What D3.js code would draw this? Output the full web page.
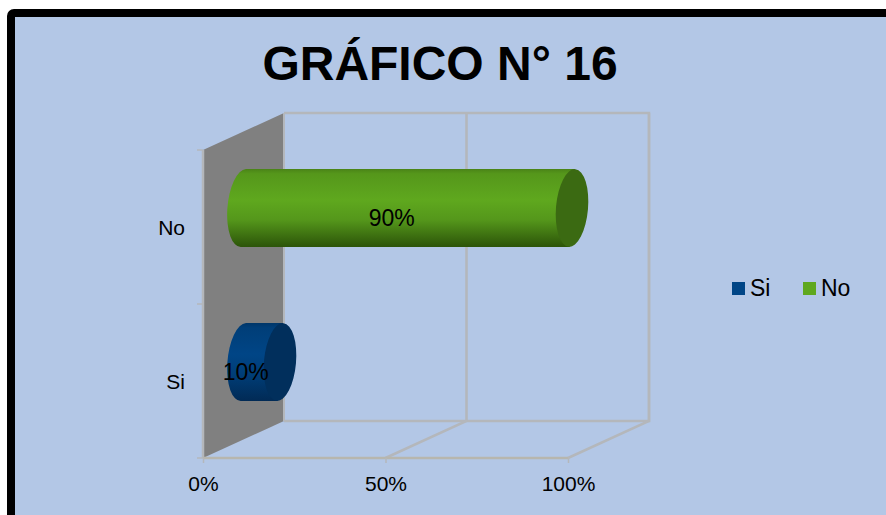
<!DOCTYPE html>
<html><head><meta charset="utf-8">
<script src="https://cdn.jsdelivr.net/npm/d3@7/dist/d3.min.js"></script>
<style>
html,body{margin:0;padding:0;background:#fff;overflow:hidden}
svg{display:block}
text{font-family:"Liberation Sans",Arial,sans-serif;fill:#000}
</style></head><body>
<svg id="c" width="886" height="515"></svg>
<script>
const chartTitle = "GRÁFICO N° 16";
const categories = ["Si", "No"];
const values = [10, 90];
const xTicks = [0, 50, 100];
const seriesColors = ["#004586", "#5fa81e"];
const capColors = ["#012f5c", "#3b6a12"];
const edgeColors = ["#012a55", "#2c5409"];

const W = 886, H = 515;
const svg = d3.select("#c");
const defs = svg.append("defs");

// frame
svg.append("rect").attr("x", 11).attr("y", 13).attr("width", W + 20).attr("height", H + 20)
  .attr("rx", 3).attr("fill", "#b3c7e6").attr("stroke", "#000").attr("stroke-width", 8);

svg.append("text").attr("x", 440).attr("y", 80).attr("text-anchor", "middle")
  .attr("font-size", 48).attr("font-weight", 700).text(chartTitle);

// 3D geometry
const x = d3.scaleLinear().domain([0, 100]).range([203, 568]);
const y = d3.scaleBand().domain(categories).range([458, 150]);
const depthX = 81, depthY = -37;
const gridCol = "#b4b7bb";

// back wall and floor grid
const g = svg.append("g").attr("fill", "none").attr("stroke", gridCol).attr("stroke-width", 2.5);
g.append("path").attr("d", d3.line()([[x(0)+depthX, y.range()[1]+depthY],[x(100)+depthX, y.range()[1]+depthY],[x(100)+depthX, y.range()[0]+depthY],[x(0)+depthX, y.range()[0]+depthY]]));
xTicks.slice(1).forEach(t => {
  g.append("path").attr("d", d3.line()([[x(t), y.range()[0]],[x(t)+depthX, y.range()[0]+depthY],[x(t)+depthX, y.range()[1]+depthY]]));
});

// left wall
svg.append("path").attr("fill", "#808080").attr("stroke", "none")
  .attr("d", d3.line()([[x(0), y.range()[0]],[x(0), y.range()[1]],[x(0)+depthX, y.range()[1]+depthY],[x(0)+depthX, y.range()[0]+depthY]]));
svg.append("path").attr("fill", "none").attr("stroke", gridCol).attr("stroke-width", 2)
  .attr("d", d3.line()([[x(0)+depthX, y.range()[1]+depthY],[x(0)+depthX, y.range()[0]+depthY]]));
svg.append("path").attr("fill", "none").attr("stroke", gridCol).attr("stroke-width", 2.5)
  .attr("d", d3.line()([[x(0), y.range()[1]],[x(0), y.range()[0]]]));

// axes
const xAxis = svg.append("g").attr("transform", `translate(0,${y.range()[0]})`)
  .call(d3.axisBottom(x).tickValues(xTicks).tickFormat(d => d + "%").tickSize(5).tickPadding(13));
xAxis.select(".domain").attr("stroke", "#b7b6ae").attr("stroke-width", 2.5).attr("d", `M${x(0)},0H${x(100)}`);
xAxis.selectAll("line").attr("stroke", gridCol).attr("stroke-width", 1.5);
xAxis.selectAll("text").attr("font-size", 21).attr("font-family", '"Liberation Sans",Arial,sans-serif').attr("fill", "#000");

const yAxis = svg.append("g").attr("transform", `translate(${x(0)},1)`)
  .call(d3.axisLeft(y).tickSize(0).tickPadding(18));
yAxis.select(".domain").remove();
yAxis.selectAll("text").attr("font-size", 21).attr("font-family", '"Liberation Sans",Arial,sans-serif').attr("fill", "#000");
const edges = [y.range()[0], ...categories.map(c => y(c))];
svg.append("g").selectAll("line").data(edges).join("line")
  .attr("x1", x(0) - 6).attr("x2", x(0)).attr("y1", d => d).attr("y2", d => d)
  .attr("stroke", gridCol).attr("stroke-width", 1.5);

// cylinders
const rx = 16, ry = 39, rot = 5, tanDx = 2.5;
const rows = categories.map((c, i) => ({c, i, v: values[i]}));
rows.forEach(d => {
  const gr = defs.append("linearGradient").attr("id", "g" + d.i)
    .attr("x1", 0).attr("x2", 0).attr("y1", 0).attr("y2", 1);
  gr.append("stop").attr("offset", "0%").attr("stop-color", d3.color(seriesColors[d.i]).darker(0.7));
  gr.append("stop").attr("offset", "6%").attr("stop-color", d3.color(seriesColors[d.i]).darker(0.3));
  gr.append("stop").attr("offset", "40%").attr("stop-color", seriesColors[d.i]);
  gr.append("stop").attr("offset", "65%").attr("stop-color", d3.color(seriesColors[d.i]).darker(0.3));
  gr.append("stop").attr("offset", "100%").attr("stop-color", edgeColors[d.i]);
});
const cx0 = x(0) + depthX / 2;
const cyl = svg.append("g");
rows.forEach(d => {
  const cy = y(d.c) + y.bandwidth() / 2 + depthY / 2 - 0.5;
  const xe = cx0 + x(d.v) - x(0);
  cyl.append("path").attr("fill", `url(#g${d.i})`)
    .attr("d", `M${cx0 + tanDx},${cy - ry} L${xe + tanDx},${cy - ry} L${xe - tanDx},${cy + ry} L${cx0 - tanDx},${cy + ry} A${rx},${ry} ${rot} 0 1 ${cx0 + tanDx},${cy - ry} Z`);
  cyl.append("ellipse").attr("cx", xe).attr("cy", cy).attr("rx", rx).attr("ry", ry)
    .attr("transform", `rotate(${rot} ${xe} ${cy})`).attr("fill", capColors[d.i]);
  cyl.append("text").attr("x", (cx0 + xe) / 2 - 16).attr("y", cy + 18)
    .attr("text-anchor", "middle").attr("font-size", 23)
    .text(d.v + "%");
});

// legend
const lx = d3.scalePoint().domain(categories).range([732, 803]);
const leg = svg.append("g").selectAll("g").data(rows).join("g")
  .attr("transform", d => `translate(${lx(d.c)},282)`);
leg.append("rect").attr("width", 13).attr("height", 13).attr("fill", d => seriesColors[d.i]);
leg.append("text").attr("x", 18).attr("y", 14).attr("font-size", 23).text(d => d.c);
</script>
</body></html>
